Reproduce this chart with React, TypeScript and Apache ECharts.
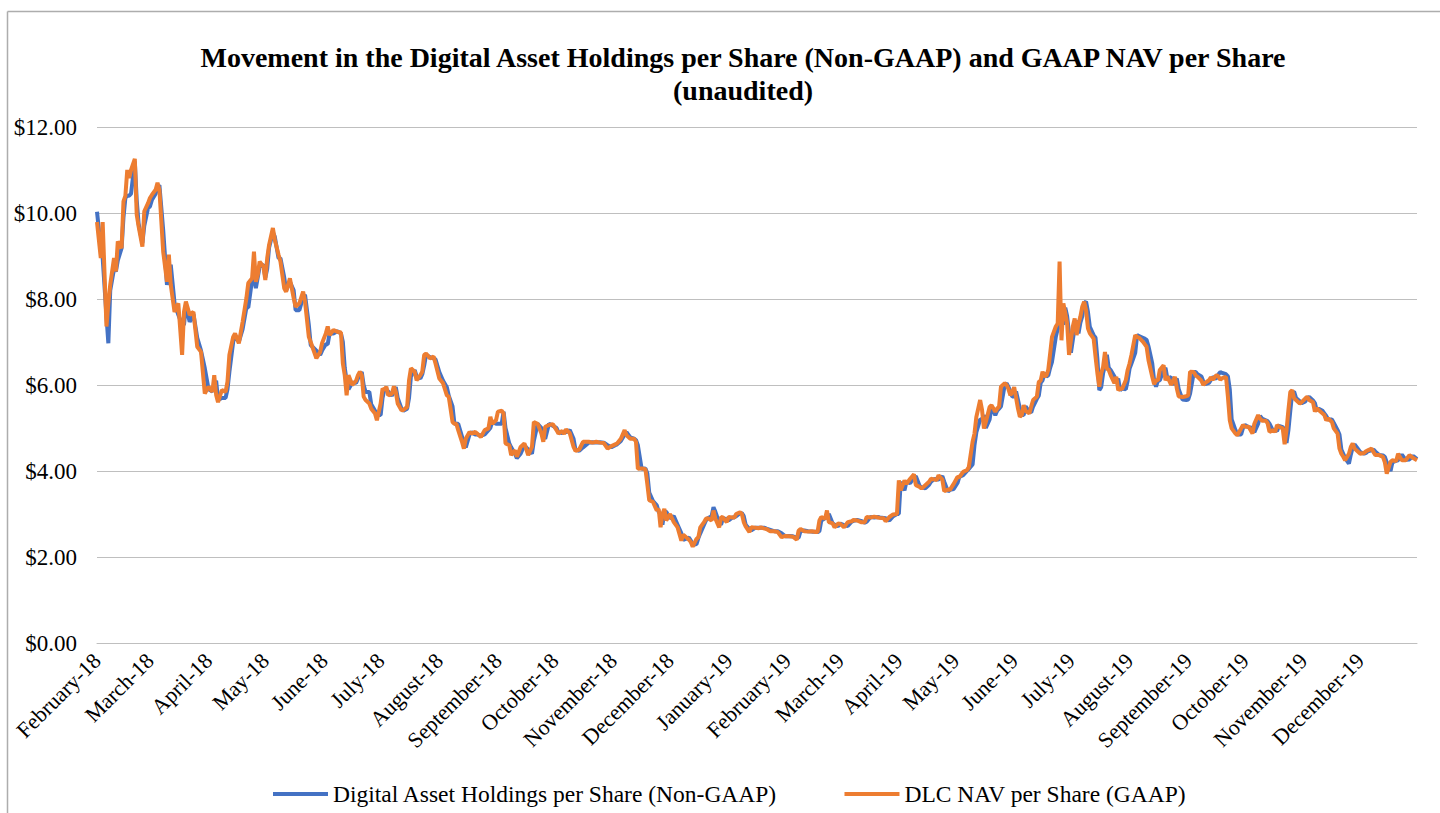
import React, { useEffect, useRef } from "react";
import * as echarts from "echarts";

// Day offsets from 1 February 2018 (daily date axis running to 31 December 2019)
const START_DATE = "2018-02-01";
const DAY_COUNT = 699;

const sampleDays = [
  0, 2, 3, 5, 6, 7, 9, 10, 11, 13, 14, 15, 16, 17, 18, 20, 21, 22, 24, 25, 27, 28, 29, 31, 32, 33, 35, 37, 38, 39,
  41, 43, 45, 46, 47, 49, 51, 53, 55, 57, 59, 61, 62, 63, 64, 66, 68, 69, 70, 72, 73, 74, 75, 77, 79, 80, 82, 83, 84, 85,
  86, 88, 89, 90, 91, 93, 94, 96, 97, 99, 100, 102, 104, 105, 107, 109, 110, 112, 113, 116, 118, 119, 121, 122, 123, 125, 127, 129, 130, 131,
  132, 133, 135, 137, 138, 139, 140, 141, 142, 144, 145, 147, 148, 150, 151, 152, 153, 154, 156, 157, 158, 159, 161, 162, 164, 165, 166, 168, 169, 171,
  172, 173, 174, 176, 178, 179, 181, 183, 185, 186, 188, 189, 190, 191, 193, 194, 195, 197, 198, 200, 201, 203, 205, 207, 208, 209, 211, 212, 214, 215,
  216, 218, 219, 221, 222, 224, 226, 228, 230, 231, 233, 235, 236, 237, 239, 241, 243, 244, 246, 247, 248, 250, 252, 253, 255, 257, 260, 262, 264, 266,
  268, 270, 272, 274, 275, 277, 279, 280, 282, 284, 285, 286, 288, 290, 291, 292, 294, 296, 297, 298, 299, 300, 301, 303, 305, 307, 309, 310, 313, 314,
  315, 317, 318, 319, 321, 322, 323, 325, 326, 327, 329, 330, 331, 333, 334, 336, 337, 338, 340, 341, 342, 343, 345, 346, 348, 350, 351, 353, 354, 356,
  358, 360, 362, 364, 366, 368, 370, 371, 372, 374, 376, 378, 380, 381, 382, 383, 385, 386, 387, 389, 390, 392, 393, 395, 397, 399, 400, 402, 404, 406,
  407, 409, 411, 413, 414, 416, 417, 419, 421, 423, 424, 425, 427, 428, 430, 432, 433, 435, 436, 438, 440, 441, 443, 444, 445, 447, 448, 450, 451, 453,
  455, 456, 458, 460, 461, 463, 464, 465, 467, 468, 469, 470, 472, 473, 475, 476, 477, 478, 480, 481, 482, 483, 484, 485, 486, 487, 488, 489, 490, 491,
  493, 494, 495, 497, 498, 499, 500, 501, 502, 503, 504, 505, 507, 508, 509, 510, 511, 512, 513, 514, 515, 516, 517, 518, 519, 520, 521, 522, 523, 524,
  525, 527, 528, 529, 530, 531, 532, 533, 534, 535, 536, 538, 539, 540, 541, 542, 544, 545, 546, 547, 549, 550, 551, 553, 554, 555, 556, 558, 559, 560,
  561, 562, 564, 565, 566, 568, 569, 570, 571, 572, 574, 576, 577, 578, 580, 581, 582, 584, 585, 586, 588, 589, 590, 592, 593, 594, 595, 597, 598, 599,
  600, 602, 603, 605, 606, 607, 609, 611, 612, 614, 615, 616, 618, 619, 620, 622, 623, 624, 625, 627, 628, 629, 630, 631, 632, 633, 634, 636, 637, 639,
  640, 641, 643, 644, 645, 646, 648, 649, 650, 651, 653, 654, 656, 657, 658, 659, 660, 662, 663, 664, 665, 667, 668, 670, 671, 672, 674, 675, 676, 678,
  680, 681, 682, 684, 685, 687, 688, 690, 692, 694, 696, 698,
];

// DLC NAV per Share (GAAP)
const navPerShare = [
  9.79, 8.95, 9.79, 7.36, 7.9, 8.33, 8.95, 8.64, 9.34, 9.18, 10.27, 10.4, 11.0, 10.81, 11.0, 11.26, 9.96, 9.69, 9.22, 10.04, 10.23, 10.35, 10.42, 10.54, 10.7, 10.54, 9.1, 8.4, 9.03, 8.33,
  7.7, 7.9, 6.7, 7.7, 7.94, 7.63, 7.7, 6.89, 6.77, 5.8, 5.96, 5.84, 6.23, 5.77, 5.6, 5.88, 5.84, 6.08, 6.7, 7.12, 7.2, 7.08, 6.97, 7.47, 8.02, 8.37, 8.48, 9.1, 8.4, 8.56,
  8.87, 8.75, 8.44, 8.95, 9.26, 9.65, 9.38, 9.03, 8.87, 8.25, 8.17, 8.48, 8.02, 7.82, 7.9, 8.17, 7.94, 7.12, 7.0, 6.62, 6.77, 6.97, 7.2, 7.36, 7.16, 7.28, 7.24, 7.22, 6.5, 6.23,
  5.76, 6.23, 6.0, 6.1, 6.23, 6.31, 6.23, 5.73, 5.65, 5.57, 5.45, 5.34, 5.18, 5.57, 5.92, 5.88, 5.96, 5.76, 5.8, 5.97, 5.84, 5.57, 5.41, 5.42, 5.49, 6.11, 6.39, 6.31, 6.11, 6.23,
  6.31, 6.7, 6.73, 6.62, 6.66, 6.5, 6.15, 6.04, 5.76, 5.73, 5.14, 5.1, 5.1, 4.95, 4.68, 4.52, 4.75, 4.91, 4.87, 4.91, 4.87, 4.79, 4.95, 4.99, 5.26, 5.1, 5.18, 5.38, 5.4, 5.34,
  4.64, 4.6, 4.37, 4.48, 4.33, 4.56, 4.64, 4.37, 4.56, 5.14, 5.1, 4.87, 4.68, 5.03, 5.07, 5.09, 4.95, 4.87, 4.93, 4.86, 4.97, 4.88, 4.56, 4.47, 4.5, 4.68, 4.68, 4.66, 4.68, 4.66,
  4.65, 4.52, 4.58, 4.62, 4.64, 4.75, 4.95, 4.83, 4.75, 4.75, 4.68, 4.05, 4.06, 4.04, 3.7, 3.32, 3.28, 3.08, 3.12, 2.69, 3.0, 3.12, 2.85, 3.0, 2.81, 2.69, 2.38, 2.52, 2.4, 2.35,
  2.24, 2.42, 2.46, 2.69, 2.81, 2.89, 2.9, 2.85, 3.08, 2.89, 2.69, 2.93, 2.92, 2.81, 2.93, 2.92, 2.92, 3.0, 3.04, 3.0, 2.81, 2.71, 2.58, 2.69, 2.68, 2.67, 2.69, 2.66, 2.65, 2.6,
  2.6, 2.58, 2.46, 2.49, 2.48, 2.47, 2.4, 2.61, 2.65, 2.6, 2.59, 2.6, 2.58, 2.58, 2.85, 2.93, 2.89, 3.08, 2.81, 2.78, 2.69, 2.78, 2.77, 2.69, 2.81, 2.83, 2.86, 2.85, 2.81, 2.81,
  2.93, 2.92, 2.94, 2.92, 2.91, 2.9, 2.83, 2.93, 2.99, 3.0, 3.78, 3.55, 3.78, 3.7, 3.82, 3.92, 3.67, 3.63, 3.59, 3.67, 3.75, 3.82, 3.8, 3.79, 3.9, 3.8, 3.53, 3.57, 3.56, 3.7,
  3.86, 3.86, 3.98, 4.02, 4.09, 4.68, 4.87, 5.26, 5.65, 5.42, 4.99, 5.14, 5.49, 5.53, 5.38, 5.45, 5.5, 5.96, 6.04, 6.0, 5.9, 5.76, 5.84, 5.95, 5.7, 5.45, 5.26, 5.3, 5.53, 5.4,
  5.34, 5.5, 5.65, 5.73, 6.07, 6.1, 6.31, 6.2, 6.22, 6.35, 6.73, 7.12, 7.36, 7.43, 8.87, 7.04, 7.9, 7.67, 7.43, 6.7, 7.04, 7.36, 7.55, 7.16, 7.43, 7.59, 7.82, 7.94, 7.74, 7.32,
  7.2, 7.08, 6.66, 6.27, 5.96, 6.27, 6.42, 6.77, 6.38, 6.35, 6.23, 6.04, 6.19, 5.88, 5.92, 5.9, 6.11, 6.35, 6.5, 6.7, 7.16, 7.12, 7.1, 7.01, 6.95, 6.89, 6.58, 6.19, 6.02, 6.11,
  6.11, 6.35, 6.46, 6.11, 6.2, 6.0, 6.1, 6.19, 5.92, 5.73, 5.72, 5.74, 5.76, 6.31, 6.3, 6.22, 6.19, 6.1, 6.0, 6.05, 6.11, 6.18, 6.12, 6.23, 6.2, 6.12, 6.16, 6.19, 5.73, 5.18,
  4.99, 4.87, 4.83, 4.99, 5.07, 5.03, 5.03, 4.87, 5.1, 5.3, 5.22, 5.17, 5.17, 5.11, 4.91, 4.95, 4.91, 5.07, 5.03, 4.99, 4.62, 4.95, 5.42, 5.84, 5.88, 5.69, 5.65, 5.57, 5.6, 5.69,
  5.73, 5.65, 5.6, 5.38, 5.46, 5.42, 5.34, 5.3, 5.18, 5.22, 5.14, 4.99, 4.87, 4.52, 4.4, 4.33, 4.25, 4.4, 4.56, 4.64, 4.52, 4.44, 4.4, 4.42, 4.46, 4.48, 4.52, 4.44, 4.37, 4.37,
  4.33, 4.2, 3.94, 4.21, 4.25, 4.23, 4.4, 4.25, 4.25, 4.37, 4.3, 4.25,
];

// Digital Asset Holdings per Share (Non-GAAP)
const holdingsPerShare = [
  10.03, 9.2, 8.95, 7.6, 6.97, 8.2, 8.7, 8.64, 8.9, 9.18, 9.9, 10.35, 10.4, 10.4, 10.45, 11.2, 10.3, 9.75, 9.3, 9.7, 10.12, 10.15, 10.3, 10.45, 10.6, 10.65, 9.6, 8.33, 8.6, 8.8,
  7.9, 7.63, 7.4, 7.4, 7.85, 7.47, 7.65, 7.1, 6.8, 6.39, 5.9, 5.85, 6.0, 6.1, 5.65, 5.7, 5.7, 5.9, 6.3, 7.0, 7.15, 7.1, 7.0, 7.3, 7.8, 7.8, 8.45, 8.5, 8.25, 8.5,
  8.75, 8.8, 8.5, 8.7, 9.2, 9.55, 9.45, 8.95, 8.95, 8.5, 8.2, 8.4, 8.2, 7.74, 7.74, 8.05, 8.1, 7.4, 6.93, 6.8, 6.7, 6.8, 6.95, 6.95, 7.2, 7.2, 7.25, 7.2, 7.0, 6.4,
  6.1, 5.9, 6.05, 6.05, 6.15, 6.25, 6.3, 6.0, 5.84, 5.84, 5.55, 5.4, 5.3, 5.3, 5.7, 5.9, 5.9, 5.85, 5.75, 5.85, 5.95, 5.7, 5.45, 5.4, 5.45, 5.7, 6.2, 6.35, 6.2, 6.15,
  6.25, 6.45, 6.7, 6.65, 6.62, 6.6, 6.3, 6.1, 5.95, 5.75, 5.5, 5.1, 5.1, 5.1, 4.8, 4.65, 4.55, 4.85, 4.9, 4.85, 4.85, 4.82, 4.85, 4.95, 5.0, 5.15, 5.1, 5.1, 5.1, 5.38,
  5.0, 4.64, 4.55, 4.4, 4.3, 4.4, 4.6, 4.5, 4.4, 4.7, 5.1, 5.0, 4.8, 4.75, 5.1, 5.05, 5.0, 4.9, 4.88, 4.92, 4.9, 4.95, 4.75, 4.5, 4.47, 4.55, 4.66, 4.67, 4.66, 4.67,
  4.66, 4.6, 4.55, 4.6, 4.62, 4.7, 4.85, 4.9, 4.78, 4.75, 4.72, 4.6, 4.05, 4.06, 3.95, 3.5, 3.3, 3.2, 3.05, 3.0, 2.75, 3.05, 3.05, 2.9, 2.95, 2.75, 2.55, 2.4, 2.45, 2.38,
  2.28, 2.3, 2.44, 2.55, 2.75, 2.85, 2.9, 2.95, 3.16, 3.05, 2.8, 2.75, 2.9, 2.88, 2.85, 2.92, 2.92, 2.95, 3.02, 3.02, 2.95, 2.75, 2.65, 2.62, 2.68, 2.68, 2.68, 2.68, 2.66, 2.63,
  2.6, 2.6, 2.55, 2.48, 2.49, 2.48, 2.45, 2.45, 2.6, 2.62, 2.6, 2.59, 2.59, 2.58, 2.6, 2.85, 2.9, 2.92, 3.0, 2.78, 2.75, 2.72, 2.78, 2.74, 2.72, 2.82, 2.84, 2.86, 2.84, 2.8,
  2.82, 2.93, 2.92, 2.93, 2.92, 2.91, 2.9, 2.85, 2.95, 3.0, 3.0, 3.75, 3.55, 3.75, 3.72, 3.85, 3.88, 3.65, 3.62, 3.6, 3.68, 3.75, 3.82, 3.8, 3.8, 3.88, 3.75, 3.52, 3.56, 3.58,
  3.72, 3.86, 3.9, 4.0, 4.05, 4.15, 4.6, 4.9, 5.2, 5.2, 5.3, 5.0, 5.2, 5.5, 5.3, 5.4, 5.45, 5.5, 6.0, 6.04, 5.95, 5.85, 5.73, 5.73, 5.85, 5.65, 5.45, 5.3, 5.3, 5.5,
  5.38, 5.36, 5.5, 5.68, 5.75, 6.05, 6.11, 6.28, 6.2, 6.22, 6.4, 6.54, 7.12, 7.3, 7.45, 7.55, 7.4, 7.8, 7.6, 7.2, 6.75, 7.05, 7.35, 7.5, 7.2, 7.45, 7.6, 7.9, 7.94, 7.7,
  7.35, 7.16, 7.1, 6.6, 5.88, 5.95, 6.27, 6.45, 6.7, 6.4, 6.35, 6.2, 6.05, 6.15, 5.88, 5.92, 5.9, 6.1, 6.38, 6.5, 6.75, 7.16, 7.14, 7.1, 7.08, 7.05, 6.9, 6.5, 6.1, 5.96,
  6.1, 6.11, 6.35, 6.4, 6.15, 6.18, 6.0, 6.1, 6.15, 5.9, 5.66, 5.65, 5.66, 5.8, 6.3, 6.3, 6.25, 6.2, 6.08, 6.02, 6.05, 6.12, 6.18, 6.15, 6.25, 6.3, 6.28, 6.25, 6.2, 5.9,
  5.2, 4.95, 4.85, 4.85, 5.0, 5.07, 5.02, 5.0, 4.9, 5.1, 5.28, 5.22, 5.18, 5.16, 5.1, 4.92, 4.95, 4.93, 5.05, 5.02, 4.95, 4.65, 4.95, 5.4, 5.82, 5.85, 5.7, 5.62, 5.58, 5.62,
  5.7, 5.72, 5.64, 5.58, 5.4, 5.45, 5.4, 5.34, 5.28, 5.2, 5.2, 5.12, 4.95, 4.85, 4.5, 4.4, 4.3, 4.17, 4.38, 4.55, 4.62, 4.5, 4.44, 4.4, 4.42, 4.46, 4.48, 4.5, 4.45, 4.37,
  4.36, 4.33, 4.2, 4.0, 4.2, 4.24, 4.25, 4.38, 4.26, 4.27, 4.35, 4.28,
];

const seriesNames = ["Digital Asset Holdings per Share (Non-GAAP)", "DLC NAV per Share (GAAP)"];
const titleLines = [
  "Movement in the Digital Asset Holdings per Share (Non-GAAP) and GAAP NAV per Share",
  "(unaudited)",
];
const monthNames = [
  "January", "February", "March", "April", "May", "June",
  "July", "August", "September", "October", "November", "December",
];
const yTicks = { min: 0, max: 12, interval: 2 };

function buildCategories(): string[] {
  const out: string[] = [];
  const start = new Date(START_DATE + "T00:00:00Z").getTime();
  for (let i = 0; i < DAY_COUNT; i++) {
    const d = new Date(start + i * 86400000);
    const y = d.getUTCFullYear();
    const m = String(d.getUTCMonth() + 1).padStart(2, "0");
    const day = String(d.getUTCDate()).padStart(2, "0");
    out.push(`${y}-${m}-${day}`);
  }
  return out;
}

const FONT = '"Liberation Serif", "Times New Roman", serif';

export default function App() {
  const ref = useRef<HTMLDivElement>(null);

  useEffect(() => {
    if (!ref.current) return;
    const chart = echarts.init(ref.current, undefined, { renderer: "svg" });
    const categories = buildCategories();

    const titleStyle = (text: string) => ({
      text,
      font: `bold 28px ${FONT}`,
      fill: "#000000",
      align: "center",
      verticalAlign: "middle",
      textAlign: "center",
      textVerticalAlign: "middle",
    });

    const option: any = {
      animation: false,
      backgroundColor: "#ffffff",
      textStyle: { fontFamily: FONT, color: "#000000" },
      graphic: [
        {
          type: "line",
          shape: { x1: 7.5, y1: 11.5, x2: 1440, y2: 11.5 },
          style: { stroke: "#ADADAD", lineWidth: 1.5 },
        },
        {
          type: "line",
          shape: { x1: 7.5, y1: 11.5, x2: 7.5, y2: 813 },
          style: { stroke: "#ADADAD", lineWidth: 1.5 },
        },
        { type: "text", x: 743, y: 57, style: titleStyle(titleLines[0]) },
        { type: "text", x: 743, y: 90, style: titleStyle(titleLines[1]) },
      ],
      grid: {
        left: 97,
        right: 23,
        top: 127,
        bottom: 170,
        containLabel: false,
        outerBoundsMode: "none",
      },
      legend: {
        left: 268,
        top: 777,
        itemWidth: 55,
        itemHeight: 4,
        itemGap: 67,
        icon: "rect",
        textStyle: { fontFamily: FONT, fontSize: 23.5, color: "#000000" },
        data: seriesNames,
      },
      xAxis: {
        type: "category",
        data: categories,
        boundaryGap: false,
        axisLine: { show: true, lineStyle: { color: "#BFBFBF", width: 1 } },
        axisTick: { show: false },
        axisLabel: {
          interval: (_index: number, value: string) => value.slice(8) === "01",
          rotate: 45,
          margin: 14,
          fontFamily: FONT,
          fontSize: 22,
          color: "#000000",
          formatter: (value: string) => {
            const y = value.slice(2, 4);
            const m = parseInt(value.slice(5, 7), 10);
            return `${monthNames[m - 1]}-${y}`;
          },
        },
        splitLine: { show: false },
      },
      yAxis: {
        type: "value",
        min: yTicks.min,
        max: yTicks.max,
        interval: yTicks.interval,
        axisLine: { show: false },
        axisTick: { show: false },
        axisLabel: {
          margin: 20,
          fontFamily: FONT,
          fontSize: 23,
          color: "#000000",
          formatter: (v: number) => `$${v.toFixed(2)}`,
        },
        splitLine: { show: true, lineStyle: { color: "#BFBFBF", width: 1 } },
      },
      series: [
        {
          name: seriesNames[0],
          type: "line",
          symbol: "none",
          color: "#4472C4",
          lineStyle: { color: "#4472C4", width: 4 },
          data: sampleDays.map((d, i) => [d, holdingsPerShare[i]]),
        },
        {
          name: seriesNames[1],
          type: "line",
          symbol: "none",
          color: "#ED7D31",
          lineStyle: { color: "#ED7D31", width: 4 },
          data: sampleDays.map((d, i) => [d, navPerShare[i]]),
        },
      ],
    };

    chart.setOption(option);
    return () => chart.dispose();
  }, []);

  return (
    <div
      ref={ref}
      style={{ position: "fixed", left: 0, top: 0, width: 1440, height: 813 }}
    />
  );
}
